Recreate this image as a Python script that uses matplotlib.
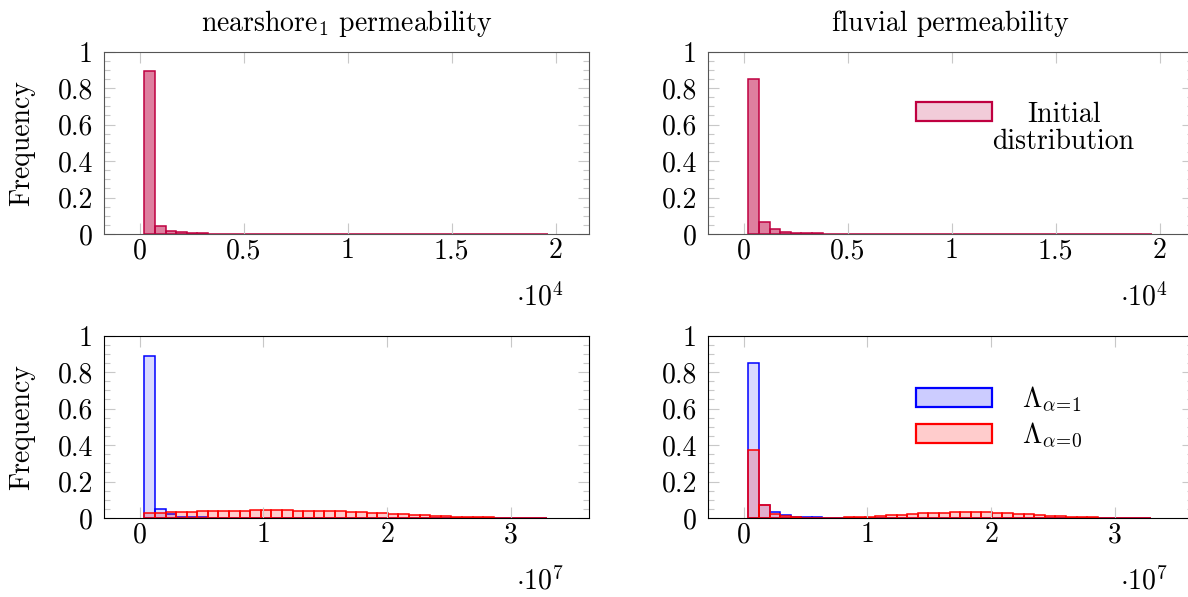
import numpy as np
import matplotlib

matplotlib.use("Agg")
import matplotlib.pyplot as plt
from matplotlib.patches import Patch, Rectangle

plt.rcParams["font.family"] = "cmr10"
plt.rcParams["mathtext.fontset"] = "cm"
plt.rcParams["axes.formatter.use_mathtext"] = True
plt.rcParams["font.size"] = 20

# --- data -----------------------------------------------------------------
# initial permeability histograms (bins of 510 starting at 230)
init_start, init_width = 230, 510
nearshore_init = [0.892, 0.042, 0.016, 0.009, 0.005, 0.003, 0.002, 0.0015, 0.001, 0.0008,
                  0.0006, 0.0005, 0.0004, 0.0004, 0.0003, 0.0003, 0.0003, 0.0002, 0.0002,
                  0.0002, 0.0002, 0.0002, 0.0001, 0.0001, 0.0001, 0.0001, 0.0001, 0.0001,
                  0.0001, 0.0001, 0.0001, 0.0001, 0.0001, 0.0001, 0.0001, 0.0001, 0.0001, 0.0001]
fluvial_init = [0.848, 0.066, 0.026, 0.013, 0.008, 0.005, 0.003, 0.002, 0.0015, 0.001,
                0.0008, 0.0006, 0.0005, 0.0004, 0.0004, 0.0003, 0.0003, 0.0003, 0.0002,
                0.0002, 0.0002, 0.0002, 0.0002, 0.0001, 0.0001, 0.0001, 0.0001, 0.0001,
                0.0001, 0.0001, 0.0001, 0.0001, 0.0001, 0.0001, 0.0001, 0.0001, 0.0001, 0.0001]

# estimated permeability histograms (bins of 0.0855e7 starting at 0.039e7)
est_start, est_width = 0.039e7, 0.0855e7
nearshore_a1 = [0.89, 0.047, 0.022, 0.008, 0.005, 0.003, 0.002, 0.0015, 0.001, 0.0008,
                0.0006, 0.0005, 0.0004, 0.0004, 0.0003, 0.0003, 0.0003, 0.0002, 0.0002,
                0.0002, 0.0002, 0.0002, 0.0001, 0.0001, 0.0001, 0.0001, 0.0001, 0.0001,
                0.0001, 0.0001, 0.0001, 0.0001, 0.0001, 0.0001, 0.0001, 0.0001, 0.0001, 0.0001]
nearshore_a0 = [0.026, 0.029, 0.031, 0.033, 0.035, 0.037, 0.038, 0.039, 0.040, 0.041,
                0.042, 0.042, 0.042, 0.042, 0.041, 0.041, 0.040, 0.038, 0.036, 0.034,
                0.031, 0.028, 0.025, 0.023, 0.020, 0.017, 0.014, 0.012, 0.009, 0.007,
                0.005, 0.004, 0.003, 0.002, 0.0015, 0.001, 0.0006, 0.0003]
fluvial_a1 = [0.847, 0.070, 0.031, 0.016, 0.008, 0.005, 0.003, 0.002, 0.0015, 0.001,
              0.0008, 0.0006, 0.0005, 0.0004, 0.0004, 0.0003, 0.0003, 0.0003, 0.0002,
              0.0002, 0.0002, 0.0002, 0.0002, 0.0001, 0.0001, 0.0001, 0.0001, 0.0001,
              0.0001, 0.0001, 0.0001, 0.0001, 0.0001, 0.0001, 0.0001, 0.0001, 0.0001, 0.0001]
fluvial_a0 = [0.37, 0.071, 0.022, 0.010, 0.004, 0.002, 0.001, 0.001, 0.002, 0.003,
              0.005, 0.008, 0.011, 0.015, 0.019, 0.022, 0.025, 0.028, 0.030, 0.031,
              0.032, 0.032, 0.031, 0.029, 0.027, 0.024, 0.020, 0.016, 0.013, 0.010,
              0.008, 0.005, 0.004, 0.002, 0.001, 0.0008, 0.0005, 0.0003]

titles = ["nearshore$_1$ permeability", "fluvial permeability"]
init_ticks = [0, 5000, 10000, 15000, 20000]
init_ticklabels = ["0", "0.5", "1", "1.5", "2"]
est_ticks = [0, 1e7, 2e7, 3e7]
est_ticklabels = ["0", "1", "2", "3"]
y_ticks = [0, 0.2, 0.4, 0.6, 0.8, 1]
y_ticklabels = ["0", "0.2", "0.4", "0.6", "0.8", "1"]

PURPLE = "#bf0040"


def hist_bars(ax, start, width, values, edge, face):
    values = np.asarray(values)
    lefts = start + width * np.arange(len(values))
    ax.bar(lefts, values, width=width, align="edge", facecolor=face,
           edgecolor=edge, linewidth=1.1)


def style_axes(ax, xticks, xlabels, xlim, mult, spine_color):
    ax.set_xlim(*xlim)
    ax.set_ylim(0, 1)
    ax.set_xticks(xticks)
    ax.set_xticklabels(xlabels)
    ax.set_yticks(y_ticks)
    ax.set_yticklabels(y_ticklabels)
    ax.set_yticks(np.arange(0, 1.001, 0.05), minor=True)
    ax.tick_params(which="both", direction="in", top=True, right=True,
                   color="#c8c8c8", width=0.8)
    ax.tick_params(which="major", length=8)
    ax.tick_params(which="minor", length=4.3)
    ax.tick_params(axis="x", pad=3)
    ax.tick_params(axis="y", pad=8)
    for s in ax.spines.values():
        s.set_color(spine_color)
        s.set_linewidth(0.8)
    ax.text(0.948, -0.345, mult, transform=ax.transAxes, ha="right", va="center")


fig = plt.figure(figsize=(11.88, 5.97), dpi=100)
W, H = 1188, 597
ax_w, ax_h = 485 / W, 182.5 / H
cols = [104 / W, 708 / W]
rows = [(597 - 234) / H, (597 - 518) / H]
axes = [[fig.add_axes([c, r, ax_w, ax_h]) for c in cols] for r in rows]

init_xlim = (-1710, 21600)
est_xlim = (-0.287e7, 3.63e7)

# top row: initial distributions
for ax, vals, title in zip(axes[0], [nearshore_init, fluvial_init], titles):
    hist_bars(ax, init_start, init_width, vals, PURPLE, (0.75, 0, 0.25, 0.5))
    style_axes(ax, init_ticks, init_ticklabels, init_xlim, r"$\cdot 10^{4}$", "#555555")
    ax.set_title(title, pad=15, fontsize=20)

# bottom row: estimated distributions
for ax, v1, v0 in zip(axes[1], [nearshore_a1, fluvial_a1], [nearshore_a0, fluvial_a0]):
    hist_bars(ax, est_start, est_width, v1, "blue", (0, 0, 1, 0.15))
    hist_bars(ax, est_start, est_width, v0, "red", (1, 0, 0, 0.2))
    style_axes(ax, est_ticks, est_ticklabels, est_xlim, r"$\cdot 10^{7}$", "black")

for row in axes:
    row[0].set_ylabel("Frequency")
    row[0].yaxis.set_label_coords(-0.142, 0.5)
    # right column runs past the image edge in the reference
    row[1].spines["right"].set_visible(False)

# legend, top right (handle next to the first line of a centred two-line label)
ax = axes[0][1]
ax.add_patch(Rectangle((0.4289, 0.617), 0.1567, 0.104, transform=ax.transAxes,
                       facecolor="#f2ccd9", edgecolor=PURPLE, linewidth=1.6))
ax.text(0.733, 0.578, "Initial\ndistribution", transform=ax.transAxes,
        ha="center", va="center", multialignment="center", linespacing=1.05)

# legend, bottom right
ax = axes[1][1]
handles = [Patch(facecolor="#ccccff", edgecolor="blue", linewidth=1.6),
           Patch(facecolor="#ffcccc", edgecolor="red", linewidth=1.6)]
ax.legend(handles, [r"$\Lambda_{\alpha\!=\!1}$", r"$\Lambda_{\alpha\!=\!0}$"],
          loc="upper left", bbox_to_anchor=(0.4289, 0.732), frameon=False,
          borderpad=0, borderaxespad=0, handlelength=2.73, handleheight=0.7,
          handletextpad=1.08, labelspacing=0.25)

fig.savefig("out.png", dpi=100)
